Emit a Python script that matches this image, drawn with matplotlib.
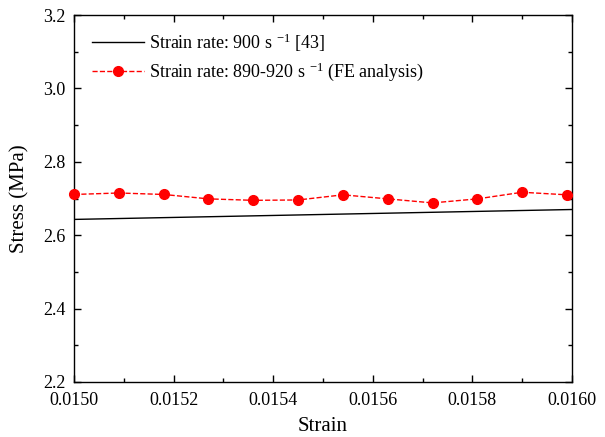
import numpy as np
import matplotlib
matplotlib.use('Agg')
import matplotlib.pyplot as plt

plt.rcParams['font.family'] = 'Liberation Serif'
plt.rcParams['mathtext.fontset'] = 'custom'
plt.rcParams['mathtext.rm'] = 'Liberation Serif'
plt.rcParams['mathtext.it'] = 'Liberation Serif'

# data
ref_strain = [0.0150, 0.0160]
ref_stress = [2.643, 2.670]

fe_strain = [0.01500, 0.01509, 0.01518, 0.01527, 0.01536, 0.01545,
             0.01554, 0.01563, 0.01572, 0.01581, 0.01590, 0.01599]
fe_stress = [2.711, 2.715, 2.711, 2.699, 2.695, 2.696,
             2.710, 2.699, 2.688, 2.699, 2.717, 2.710]

fig = plt.figure(figsize=(6.05, 4.37), dpi=100)
ax = fig.add_axes([74/605, 1 - 382/437, 498/605, 367/437])

ax.plot(ref_strain, ref_stress, color='black', lw=1,
        label=r'Strain rate: 900 s $^{-1}$ [43]')
ax.plot(fe_strain, fe_stress, color='red', ls='--', lw=1, marker='o',
        markersize=7, label=r'Strain rate: 890-920 s $^{-1}$ (FE analysis)',
        clip_on=False, zorder=3)

ax.set_xlim(0.0150, 0.0160)
ax.set_ylim(2.2, 3.2)
ax.set_xticks(np.arange(0.0150, 0.01601, 0.0002))
ax.set_xticks(np.arange(0.0151, 0.0160, 0.0002), minor=True)
ax.set_yticks([2.2, 2.4, 2.6, 2.8, 3.0, 3.2])
ax.set_yticks([2.3, 2.5, 2.7, 2.9, 3.1], minor=True)
ax.xaxis.set_major_formatter(matplotlib.ticker.FormatStrFormatter('%.4f'))
ax.yaxis.set_major_formatter(matplotlib.ticker.FormatStrFormatter('%.1f'))
ax.tick_params(which='both', direction='in', top=True, right=True, labelsize=13)
ax.tick_params(axis='x', which='major', pad=7)
ax.tick_params(axis='y', which='major', pad=6)
ax.tick_params(which='major', length=5, width=1)
ax.tick_params(which='minor', length=3, width=1)
for s in ax.spines.values():
    s.set_linewidth(1)

ax.set_xlabel('Strain', fontsize=15, labelpad=6)
ax.set_ylabel('Stress (MPa)', fontsize=15, labelpad=10)

ax.legend(loc='upper left', bbox_to_anchor=(0.01, 0.99), frameon=False,
          fontsize=13, handlelength=2.9, handletextpad=0.3,
          borderaxespad=0.3, labelspacing=0.4)

plt.savefig('out.png', dpi=100)
